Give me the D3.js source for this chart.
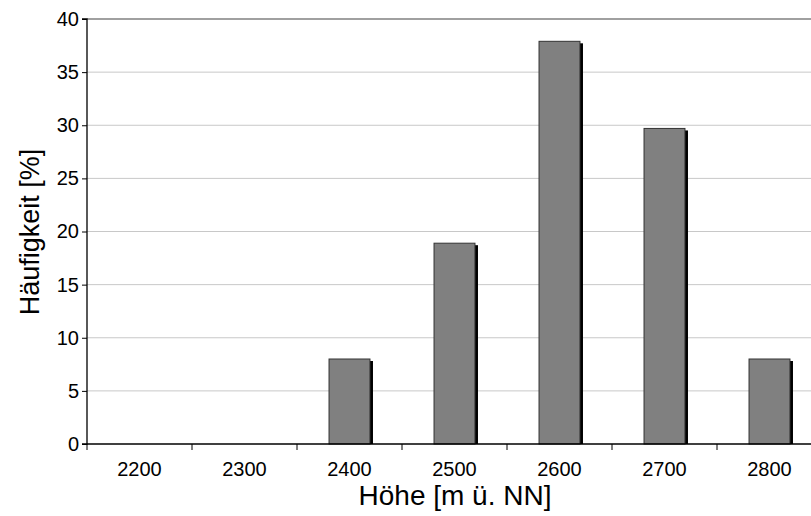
<!DOCTYPE html>
<meta charset="utf-8">
<script src="https://d3js.org/d3.v7.min.js"></script>
<style>
  body { margin: 0; background: #fff; }
  text { font-family: "Liberation Sans", Arial, sans-serif; fill: #000; }
</style>
<div id="chart"></div>
<script>
  // data
  const heights = ["2200", "2300", "2400", "2500", "2600", "2700", "2800"];
  const percents = [0, 0, 8.0, 18.9, 37.9, 29.7, 8.0];
  const yTicks = [0, 5, 10, 15, 20, 25, 30, 35, 40];

  const W = 811, H = 516;
  const margin = { top: 19, left: 87, bottom: 72 };
  const plotH = H - margin.top - margin.bottom;
  const plotW = 735; // runs past the right edge like the original

  const svg = d3.select("#chart").append("svg")
    .attr("width", W).attr("height", H);

  const g = svg.append("g")
    .attr("transform", `translate(${margin.left},${margin.top})`);

  const x = d3.scaleBand().domain(heights).range([0, plotW]).paddingInner(0.61).paddingOuter(0.305);
  const xb = d3.scaleBand().domain(heights).range([0, plotW]);
  const y = d3.scaleLinear().domain([0, 40]).range([plotH, 0]);

  // gridlines
  g.selectAll(".grid")
    .data(yTicks.filter(d => d > 0 && d < 40))
    .join("line")
    .attr("x1", 0).attr("x2", plotW)
    .attr("y1", d => y(d)).attr("y2", d => y(d))
    .attr("stroke", "#c8c8c8").attr("stroke-width", 1);

  // top border
  g.append("line")
    .attr("x1", 0).attr("x2", plotW)
    .attr("y1", y(40)).attr("y2", y(40))
    .attr("stroke", "#808080").attr("stroke-width", 1.5);

  const barData = percents.map((v, i) => ({ k: heights[i], v })).filter(d => d.v > 0);

  // bar shadows
  g.selectAll(".shadow")
    .data(barData)
    .join("rect")
    .attr("x", d => x(d.k) + 3)
    .attr("y", d => y(d.v) + 2)
    .attr("width", x.bandwidth())
    .attr("height", d => plotH - y(d.v) - 2)
    .attr("fill", "#000");

  // bars
  g.selectAll(".bar")
    .data(barData)
    .join("rect")
    .attr("x", d => x(d.k))
    .attr("y", d => y(d.v))
    .attr("width", x.bandwidth())
    .attr("height", d => plotH - y(d.v))
    .attr("fill", "#808080")
    .attr("stroke", "#333")
    .attr("stroke-width", 1);

  // y axis
  const yAxis = g.append("g")
    .call(d3.axisLeft(y).tickValues(yTicks).tickSize(5).tickPadding(3));
  yAxis.select(".domain").attr("stroke", "#000").attr("stroke-width", 1.3).attr("d", `M-5,${plotH}H0V0H-5`);
  yAxis.selectAll("text")
    .attr("font-size", 20)
    .style("font-family", "Liberation Sans, Arial, sans-serif");

  // x axis: ticks on band boundaries
  const xAxis = g.append("g").attr("transform", `translate(0,${plotH})`);
  xAxis.append("line")
    .attr("x1", 0).attr("x2", plotW)
    .attr("stroke", "#000").attr("stroke-width", 1.6);
  xAxis.selectAll(".tick")
    .data(heights)
    .join("line")
    .attr("x1", d => xb(d)).attr("x2", d => xb(d))
    .attr("y1", 0).attr("y2", 6)
    .attr("stroke", "#000");
  xAxis.selectAll(".lab")
    .data(heights)
    .join("text")
    .attr("x", d => xb(d) + xb.bandwidth() / 2)
    .attr("y", 32)
    .attr("text-anchor", "middle")
    .attr("font-size", 20)
    .text(d => d);

  // axis titles
  svg.append("text")
    .attr("x", 455).attr("y", 505)
    .attr("text-anchor", "middle")
    .attr("font-size", 28)
    .text("Höhe [m ü. NN]");

  svg.append("text")
    .attr("transform", "translate(39,232) rotate(-90)")
    .attr("text-anchor", "middle")
    .attr("font-size", 27)
    .text("Häufigkeit [%]");
</script>
